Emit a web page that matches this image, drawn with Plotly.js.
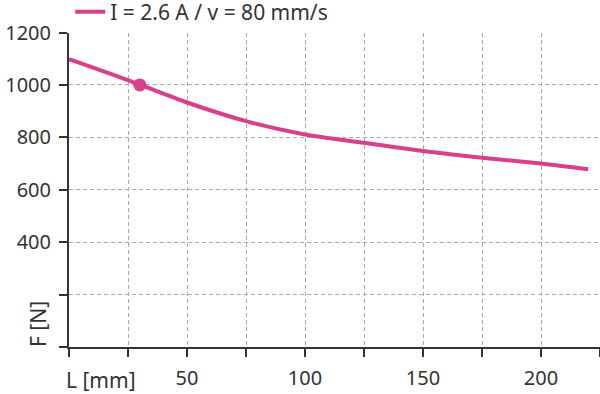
<!DOCTYPE html>
<html>
<head>
<meta charset="utf-8">
<script src="https://cdn.plot.ly/plotly-3.0.1.min.js"></script>
<style>html,body{margin:0;padding:0;background:#fff;}#chart{width:600px;height:394px;}</style>
</head>
<body>
<div id="chart"></div>
<script>
// Data
const seriesName = "I = 2.6 A / v = 80 mm/s";
const strokeL = [0, 25, 50, 75, 100, 125, 150, 175, 200, 220];
const forceF  = [1098, 1018, 933, 862, 811, 779, 748, 722, 700, 678];
const markL = [30];
const markF = [1000];
const xTickVals = [0, 25, 50, 75, 100, 125, 150, 175, 200, 225];
const xTickText = ["", "", "50", "", "100", "", "150", "", "200", ""];
const yTickVals = [0, 200, 400, 600, 800, 1000, 1200];
const yTickText = ["", "", "400", "600", "800", "1000", "1200"];
const xLabel = "L [mm]";
const yLabel = "F [N]";

const pink = "#d93f8b";
const ink = "#333333";
const fontFam = "Noto Sans, Open Sans, sans-serif";
const fs = 20;

const traces = [
  {x: strokeL, y: forceF, type: "scatter", mode: "lines", name: seriesName,
   line: {color: pink, width: 4, shape: "spline", smoothing: 0.8}, showlegend: true},
  {x: markL, y: markF, type: "scatter", mode: "markers", name: "point",
   marker: {color: pink, size: 13}, showlegend: false}
];

const axisCommon = {
  showline: true, linecolor: ink, linewidth: 2,
  ticks: "outside", ticklen: 8, tickwidth: 2, tickcolor: ink,
  showgrid: true, gridcolor: "#aaaaaa", gridwidth: 1, griddash: "4px,3px",
  zeroline: false, tickmode: "array",
  tickfont: {family: fontFam, size: fs, color: ink}
};

const layout = {
  width: 600, height: 394,
  margin: {l: 69, r: 0, t: 32, b: 47},
  paper_bgcolor: "#fff", plot_bgcolor: "#fff",
  font: {family: fontFam, size: fs, color: ink},
  xaxis: Object.assign({}, axisCommon, {range: [0, 225], tickvals: xTickVals, ticktext: xTickText, ticklabelstandoff: 4}),
  yaxis: Object.assign({}, axisCommon, {range: [0, 1200], tickvals: yTickVals, ticktext: yTickText, ticklabelstandoff: 4}),
  showlegend: true,
  legend: {orientation: "h", x: 0.117, y: 0.9695, xref: "container", yref: "container",
           xanchor: "left", yanchor: "middle", bgcolor: "rgba(0,0,0,0)",
           font: {family: fontFam, size: 21, color: ink}, itemwidth: 30},
  annotations: [
    {text: xLabel, xref: "paper", yref: "paper", x: 0, y: 0, xshift: -5, yshift: -33,
     xanchor: "left", yanchor: "middle", showarrow: false,
     font: {family: fontFam, size: 21, color: ink}},
    {text: yLabel, xref: "paper", yref: "paper", x: 0, y: 0, xshift: -31, yshift: 23,
     xanchor: "center", yanchor: "middle", textangle: -90, showarrow: false,
     font: {family: fontFam, size: 21, color: ink}}
  ]
};

Plotly.newPlot("chart", traces, layout, {staticPlot: true, displayModeBar: false});
</script>
</body>
</html>
